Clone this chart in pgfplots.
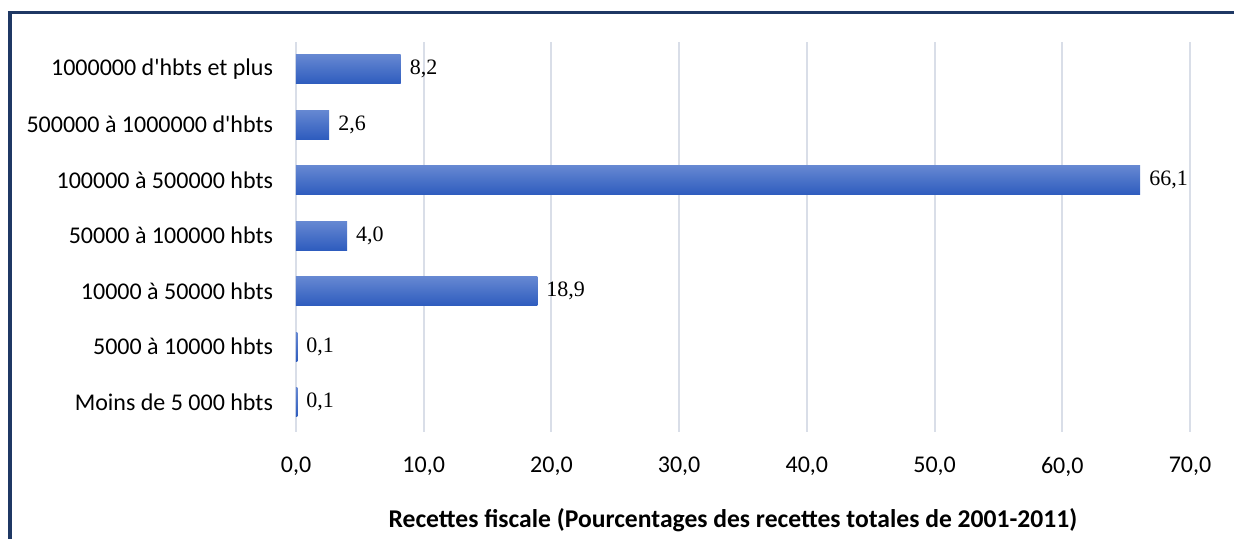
\documentclass[border=0pt]{standalone}
\usepackage{fontspec}
\setmainfont{Carlito}
\newfontfamily\numfont{Liberation Serif}
\usepackage{pgfplots}
\pgfplotsset{compat=1.18}
\definecolor{frameC}{RGB}{31,56,100}
\definecolor{gridC}{RGB}{217,222,232}
\definecolor{barTop}{RGB}{102,136,210}
\definecolor{barBot}{RGB}{46,92,190}

\begin{document}
\begin{tikzpicture}
% picture is 1234x539 px, 1px = 0.5pt, axis box lower-left at origin
\useasboundingbox (-148pt,-53.5pt) rectangle (469pt,216pt);
\draw[frameC, line width=2pt] (-143pt,-53.5pt) -- (-143pt,209.5pt);
\draw[frameC, line width=1.5pt] (-144pt,209.5pt) -- (469pt,209.5pt);

\begin{axis}[
    at={(0,0)}, anchor=south west,
    scale only axis,
    width=447pt, height=195pt,
    xbar, bar width=14.5pt, bar shift=0pt,
    xmin=0, xmax=70,
    ymin=-0.54, ymax=6.49,
    xtick={0,10,...,70},
    ytick={0,...,6},
    yticklabels={Moins de 5 000 hbts, 5000 à 10000 hbts, 10000 à 50000 hbts,
        50000 à 100000 hbts, 100000 à 500000 hbts,
        500000 à 1000000 d\textquotesingle hbts, 1000000 d\textquotesingle hbts et plus},
    axis line style={draw=none},
    major tick length=0pt,
    xmajorgrids, grid style={draw=gridC, line width=1pt},
    tick label style={font=\fontsize{12}{14}\selectfont, text=black},
    xticklabel style={yshift=-9pt},
    yticklabel style={xshift=-8pt},
    /pgf/number format/.cd, use comma, fixed, fixed zerofill, precision=1, assume math mode=true,
    /pgfplots/.cd,
    xlabel={\textbf{Recettes fiscale (Pourcentages des recettes totales de 2001-2011)}},
    xlabel style={font=\fontsize{12.8}{14}\selectfont, at={(axis description cs:0.5,0)}, anchor=center, yshift=-44pt, xshift=-5pt},
    nodes near coords,
    nodes near coords style={font=\numfont\fontsize{11}{12}\selectfont, text=black, anchor=west, xshift=1pt,
        /pgf/number format/.cd, use comma, fixed, fixed zerofill, precision=1, assume math mode=true},
    every axis plot/.append style={draw=none, top color=barTop, bottom color=barBot},
]
\addplot coordinates {(0.1,0)};
\addplot coordinates {(0.1,1)};
\addplot coordinates {(18.9,2)};
\addplot coordinates {(4.0,3)};
\addplot coordinates {(66.1,4)};
\addplot coordinates {(2.6,5)};
\addplot coordinates {(8.2,6)};
\end{axis}
\end{tikzpicture}
\end{document}
